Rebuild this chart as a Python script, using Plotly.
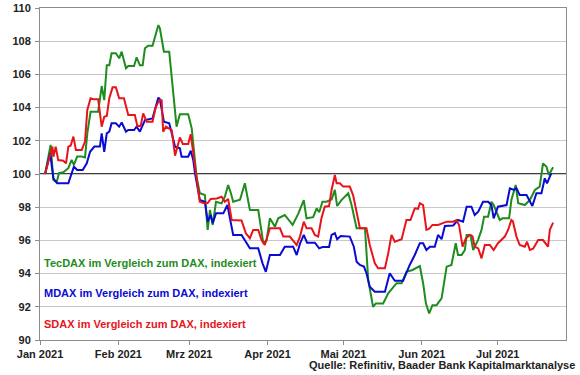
import pandas as pd
import plotly.graph_objects as go

BASE = pd.Timestamp("2021-01-01")

# Days since 2021-01-01 and indexed values
tec_days = [2.0, 4.2, 5.3, 6.6, 7.5, 9.2, 11.2, 12.5, 13.4, 14.7, 16.5, 17.8, 18.7, 20.0, 23.0, 24.4, 25.4, 26.4, 27.4, 28.3,
            30.0, 31.3, 32.3, 34.0, 34.9, 37.2, 38.2, 39.5, 40.6, 41.5, 42.8, 44.5, 46.8, 47.4, 49.0, 51.1, 54.0, 55.3, 58.6, 60.0,
            61.9, 63.2, 65.2, 66.3, 67.2, 68.3, 69.6, 71.8, 73.1, 74.4, 75.5, 76.4, 79.1, 81.0, 83.0, 86.3, 88.3, 89.6, 90.9, 92.9,
            94.2, 96.8, 99.9, 102.1, 104.3, 105.4, 108.0, 109.4, 110.4, 111.7, 113.3, 115.3, 116.6, 117.5, 119.2, 121.9, 123.2, 125.2, 128.5, 129.8,
            131.7, 132.8, 135.7, 137.7, 141.0, 143.0, 144.9, 147.3, 150.2, 151.5, 152.6, 153.9, 155.2, 156.8, 158.8, 160.8, 162.7, 164.4, 165.3, 166.7,
            168.0, 168.7, 170.2, 171.3, 173.2, 174.6, 175.6, 177.2, 178.5, 179.4, 181.8, 182.9, 185.5, 186.4, 188.1, 189.1, 191.7, 193.7, 195.7, 197.6,
            198.9, 200.3, 201.2, 202.9]
tec_vals = [100.0, 101.75, 99.64, 99.5, 100.05, 100.1, 100.35, 100.85, 100.55, 101.05, 101.05, 101.0, 102.45, 103.75, 103.75, 105.3, 104.45, 106.55, 106.55, 107.27,
            107.27, 106.97, 107.37, 106.37, 106.5, 106.5, 107.03, 106.55, 106.55, 107.57, 107.73, 107.73, 108.97, 108.77, 107.37, 107.37, 102.85, 103.6, 103.6, 102.75,
            99.84, 98.84, 98.73, 96.63, 97.83, 96.93, 98.33, 98.23, 98.63, 99.34, 98.84, 98.33, 98.45, 99.44, 97.83, 97.83, 95.83, 96.0, 97.33, 96.83,
            97.33, 97.53, 96.93, 97.6, 98.43, 97.33, 97.4, 97.93, 97.7, 98.33, 98.33, 98.47, 99.04, 98.07, 98.43, 98.84, 98.13, 96.73, 96.73, 93.61,
            92.0, 92.2, 92.2, 92.81, 93.42, 93.42, 94.11, 94.22, 94.45, 93.42, 92.21, 91.6, 92.1, 92.1, 92.51, 94.42, 94.52, 95.83, 95.12, 95.12,
            95.42, 96.33, 96.33, 95.42, 96.02, 96.63, 97.43, 97.43, 98.33, 98.13, 97.23, 97.33, 97.33, 98.43, 99.34, 98.24, 98.13, 98.43, 99.04, 99.24,
            100.64, 100.44, 99.94, 100.4]

mdax_days = [2.0, 4.0, 5.3, 6.8, 11.2, 13.4, 14.7, 16.9, 18.5, 19.8, 21.5, 23.7, 24.4, 25.4, 26.4, 27.4, 28.3, 30.0, 31.3, 32.3,
             34.0, 34.9, 37.2, 38.2, 39.5, 41.5, 44.5, 46.8, 47.4, 49.0, 51.1, 53.4, 55.3, 56.0, 58.6, 59.6, 60.6, 61.3, 63.2, 65.2,
             66.3, 67.5, 68.3, 69.6, 72.5, 74.1, 75.1, 76.4, 79.7, 81.0, 83.0, 86.3, 88.0, 89.3, 90.2, 90.9, 94.9, 96.8, 100.1, 101.5,
             102.8, 104.3, 105.6, 108.7, 110.4, 111.7, 114.3, 115.3, 116.6, 117.5, 118.9, 122.5, 124.1, 125.2, 126.5, 128.1, 129.1, 130.4, 132.4, 136.4,
             138.3, 140.3, 143.6, 144.9, 146.2, 148.2, 150.2, 151.5, 152.8, 154.2, 156.1, 157.4, 158.8, 160.1, 163.4, 165.3, 167.3, 168.7, 170.6, 171.9,
             173.3, 175.2, 177.2, 178.5, 179.4, 181.1, 184.5, 185.8, 187.4, 188.4, 189.7, 192.4, 194.7, 196.3, 198.3, 199.6, 200.5, 201.6, 202.2]
mdax_vals = [100.0, 101.25, 99.74, 99.44, 99.44, 100.44, 100.24, 100.24, 100.64, 101.34, 101.65, 101.65, 102.45, 101.34, 102.45, 102.55, 103.05, 103.05, 102.85, 103.1,
             102.55, 102.65, 102.65, 102.85, 102.55, 103.25, 103.35, 104.6, 104.5, 103.15, 103.05, 101.65, 101.55, 101.04, 101.04, 101.4, 100.84, 100.04, 98.43, 98.33,
             97.13, 97.53, 97.03, 97.63, 97.63, 98.13, 97.33, 96.33, 96.33, 96.02, 95.52, 95.52, 94.62, 94.11, 94.62, 95.12, 95.12, 95.62, 95.62, 95.12,
             95.8, 96.33, 95.86, 95.86, 95.52, 95.6, 95.6, 96.33, 96.43, 96.07, 96.27, 96.23, 95.62, 94.72, 94.52, 94.42, 94.02, 93.21, 92.91, 92.91,
             94.02, 93.57, 93.57, 94.11, 94.52, 95.12, 95.83, 95.83, 95.42, 95.62, 95.62, 96.33, 96.07, 96.87, 96.9, 97.23, 97.13, 98.03, 98.03, 97.53,
             97.73, 98.33, 98.33, 98.13, 97.33, 98.03, 98.13, 99.14, 99.04, 99.14, 98.73, 98.73, 98.07, 98.84, 98.84, 99.74, 99.44, 99.84, 100.04]

sdax_days = [2.0, 4.0, 4.9, 5.3, 6.2, 7.2, 9.2, 10.3, 11.2, 12.1, 13.2, 14.2, 16.5, 17.8, 18.7, 20.0, 21.1, 23.0, 24.4, 25.4,
             26.4, 27.4, 28.7, 30.0, 31.3, 33.2, 34.3, 34.9, 37.5, 38.5, 39.8, 40.8, 42.2, 44.5, 45.8, 47.2, 48.1, 48.7, 49.8, 52.1,
             53.4, 54.7, 55.3, 56.5, 58.6, 59.6, 60.6, 61.9, 63.2, 65.2, 66.3, 67.5, 69.9, 71.8, 73.1, 74.4, 75.8, 79.7, 81.4, 83.0,
             84.3, 86.3, 87.6, 88.9, 90.9, 94.9, 96.2, 98.8, 101.5, 102.8, 104.3, 105.4, 107.4, 108.7, 110.0, 111.3, 112.6, 114.3, 115.3, 116.6,
             117.3, 118.6, 119.9, 122.5, 123.8, 124.9, 126.5, 129.1, 130.4, 132.4, 133.7, 136.4, 137.7, 139.0, 140.3, 143.0, 144.9, 146.5, 148.2, 149.5,
             150.2, 151.5, 152.8, 153.9, 155.2, 157.4, 158.8, 160.8, 163.4, 164.7, 165.7, 167.1, 168.4, 170.0, 171.0, 171.9, 173.3, 174.6, 175.9, 177.9,
             179.4, 181.1, 183.8, 185.1, 186.4, 187.0, 188.4, 189.7, 191.7, 192.6, 193.7, 195.0, 197.0, 198.9, 200.9, 201.6, 202.9]
sdax_vals = [100.0, 101.04, 101.65, 101.04, 101.65, 100.84, 100.8, 100.64, 101.65, 101.7, 102.25, 101.45, 101.45, 101.95, 103.86, 104.56, 104.5, 104.5, 102.85, 103.45,
             103.5, 104.56, 105.22, 105.22, 104.56, 104.56, 103.96, 103.55, 103.55, 102.89, 102.89, 103.65, 103.15, 103.15, 104.05, 104.45, 104.45, 102.55, 102.85, 102.65,
             101.1, 101.9, 102.2, 101.8, 101.8, 102.4, 101.2, 99.84, 98.33, 98.23, 98.25, 98.5, 98.53, 98.63, 98.33, 98.5, 97.23, 97.2, 96.43, 96.13,
             96.63, 96.63, 96.02, 95.72, 96.73, 96.73, 96.23, 96.23, 95.72, 96.23, 97.13, 96.73, 96.73, 96.33, 96.23, 97.33, 98.03, 98.07, 99.04, 99.94,
             99.44, 99.44, 99.24, 99.24, 98.73, 97.93, 96.73, 96.73, 95.72, 94.62, 94.32, 94.32, 95.22, 96.33, 95.92, 96.07, 97.23, 97.23, 97.93, 97.9,
             98.24, 98.13, 96.63, 96.7, 96.93, 96.93, 97.0, 97.13, 97.13, 97.23, 96.93, 95.62, 96.13, 96.33, 96.25, 95.62, 95.52, 94.92, 95.72, 95.72,
             95.42, 95.83, 96.23, 96.63, 97.23, 97.15, 96.23, 95.72, 95.62, 95.92, 95.42, 95.5, 96.02, 96.02, 95.62, 96.63, 97.07]

month_ticks = ["2021-01-01", "2021-02-01", "2021-03-01", "2021-04-01", "2021-05-01", "2021-06-01", "2021-07-01"]
month_labels = ["Jan 2021", "Feb 2021", "Mrz 2021", "Apr 2021", "Mai 2021", "Jun 2021", "Jul 2021"]
y_ticks = list(range(90, 111, 2))

GREEN = "#1e8c1e"
BLUE = "#0a0ad2"
RED = "#e8141c"
FONT = "Liberation Sans"
FS = 11


def to_dates(days):
    return BASE + pd.to_timedelta(days, unit="D")


fig = go.Figure()
for days, vals, col, name in [(tec_days, tec_vals, GREEN, "TecDAX"),
                              (mdax_days, mdax_vals, BLUE, "MDAX"),
                              (sdax_days, sdax_vals, RED, "SDAX")]:
    fig.add_trace(go.Scatter(x=to_dates(days), y=vals, mode="lines", name=name,
                             line=dict(color=col, width=2), showlegend=False, hoverinfo="skip"))

fig.add_shape(type="line", xref="paper", x0=0, x1=1, yref="y", y0=100, y1=100,
              line=dict(color="black", width=1.6), layer="below")

for i, (txt, col) in enumerate([("TecDAX im Vergleich zum DAX, indexiert", GREEN),
                                ("MDAX im Vergleich zum DAX, indexiert", BLUE),
                                ("SDAX im Vergleich zum DAX, indexiert", RED)]):
    fig.add_annotation(text=txt, xref="paper", yref="paper", x=0.004, y=[0.232, 0.142, 0.048][i],
                       xanchor="left", yanchor="middle", showarrow=False,
                       font=dict(family=FONT, size=FS, color=col, weight="bold"))

fig.add_annotation(text="Quelle: Refinitiv, Baader Bank Kapitalmarktanalyse", xref="paper", yref="paper",
                   x=1.021, y=-0.075, xanchor="right", yanchor="middle", showarrow=False,
                   font=dict(family=FONT, size=FS, color="#222222", weight="bold"))

fig.update_layout(
    width=580, height=375,
    margin=dict(l=40, r=14, t=8, b=35, autoexpand=False),
    paper_bgcolor="white", plot_bgcolor="white",
    font=dict(family=FONT, size=FS, color="#222222"),
    hovermode=False,
    xaxis=dict(type="date", range=["2021-01-01", "2021-07-28"], tickvals=month_ticks, ticktext=month_labels,
               showgrid=False, showline=True, linecolor="#8c8c8c", linewidth=1, mirror=True,
               ticks="outside", ticklen=4, tickcolor="#8c8c8c", automargin=False,
               tickfont=dict(family=FONT, size=FS, color="#222222", weight="bold")),
    yaxis=dict(range=[90, 110], tickvals=y_ticks, showgrid=True, gridcolor="#c8c8c8", gridwidth=1,
               showline=True, linecolor="#8c8c8c", linewidth=1, mirror=True, zeroline=False,
               ticks="outside", ticklen=4, tickcolor="#8c8c8c", automargin=False, ticklabelstandoff=2,
               tickfont=dict(family=FONT, size=FS, color="#222222", weight="bold")),
)

# Remove the browser's default page margin so the 580x375 figure fills the window exactly
fig.write_html("out.html", config={"displayModeBar": False},
               post_script="document.body.style.margin='0';")
